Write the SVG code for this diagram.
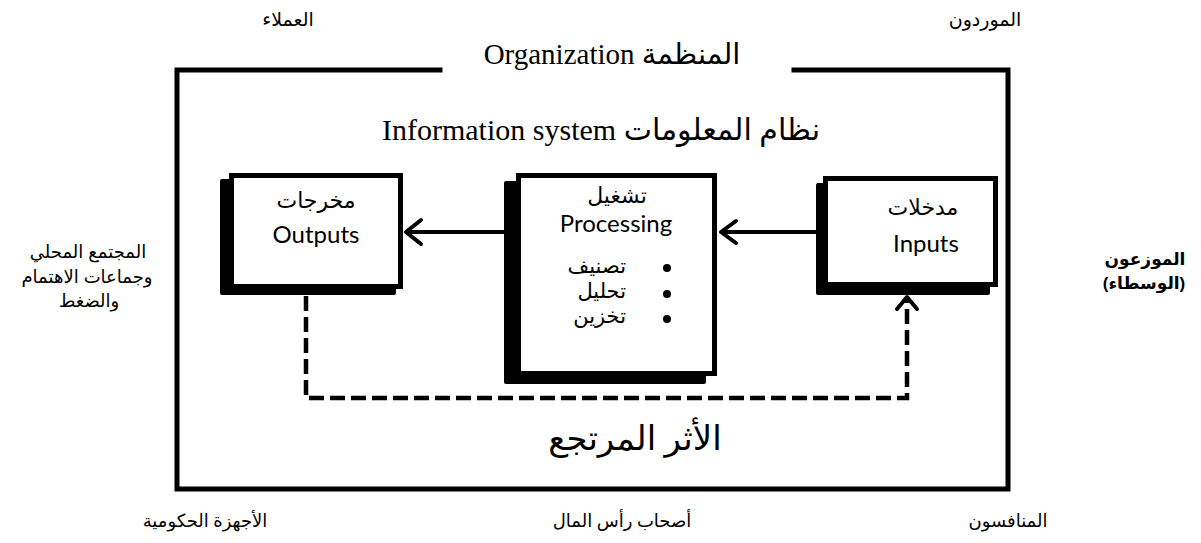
<svg xmlns="http://www.w3.org/2000/svg" width="1201" height="543" viewBox="0 0 1201 543">
  <style>
    .serif { font-family: 'Liberation Serif', 'DejaVu Sans', serif; fill: #000; }
    .sans { font-family: 'Liberation Sans', 'DejaVu Sans', sans-serif; fill: #000; }
    .body { font-family: Lato, 'DejaVu Sans', sans-serif; fill: #000; }
    .frame { fill: none; stroke: #000; stroke-width: 5; stroke-linecap: square; }
    .shadow { fill: #000; }
    .box { fill: #fff; stroke: #000; stroke-width: 5; }
    .line { fill: none; stroke: #000; stroke-width: 4; }
    .dash { fill: none; stroke: #000; stroke-width: 4.5; stroke-dasharray: 15 6; }
    .head { fill: none; stroke: #000; stroke-width: 4; stroke-linecap: round; stroke-linejoin: round; }
  </style>

  <!-- surrounding stakeholders -->
  <g id="stakeholders">
    <text class="serif" x="288" y="26" font-size="19" text-anchor="middle">العملاء</text>
    <text class="serif" x="985" y="26" font-size="19" text-anchor="middle">الموردون</text>
    <text class="sans" x="88" y="258" font-size="18" text-anchor="middle">المجتمع المحلي</text>
    <text class="sans" x="87" y="283" font-size="18" text-anchor="middle">وجماعات الاهتمام</text>
    <text class="sans" x="89" y="307" font-size="18" text-anchor="middle">والضغط</text>
    <text class="sans" x="1145" y="265" font-size="17" font-weight="bold" text-anchor="middle">الموزعون</text>
    <text class="sans" x="1144" y="289" font-size="17" font-weight="bold" text-anchor="middle">(الوسطاء)</text>
    <text class="serif" x="205" y="527" font-size="18" text-anchor="middle">الأجهزة الحكومية</text>
    <text class="serif" x="622" y="527" font-size="18" text-anchor="middle">أصحاب رأس المال</text>
    <text class="serif" x="1008" y="527" font-size="18" text-anchor="middle">المنافسون</text>
  </g>

  <!-- organization boundary -->
  <g id="organization">
    <path class="frame" d="M440,70 H177 V489 H1008 V70 H794"/>
    <text class="serif" x="612" y="64" font-size="29" text-anchor="middle" direction="rtl">المنظمة Organization</text>
    <text class="serif" x="601" y="140" font-size="30" text-anchor="middle" direction="rtl">نظام المعلومات Information system</text>
    <text class="serif" x="635" y="450" font-size="34" text-anchor="middle">الأثر المرتجع</text>
  </g>

  <!-- outputs -->
  <g id="outputs">
    <rect class="shadow" x="220" y="179" width="176" height="116" rx="2"/>
    <rect class="box" x="231.5" y="175.5" width="169" height="111"/>
    <text class="body" x="316" y="208" font-size="22" text-anchor="middle">مخرجات</text>
    <text class="body" x="316" y="243" font-size="24" text-anchor="middle">Outputs</text>
  </g>

  <!-- processing -->
  <g id="processing">
    <rect class="shadow" x="504" y="181" width="202" height="203" rx="2"/>
    <rect class="box" x="518.5" y="175.5" width="196" height="198"/>
    <text class="body" x="617" y="203" font-size="22" text-anchor="middle">تشغيل</text>
    <text class="body" x="616" y="232" font-size="24" text-anchor="middle">Processing</text>
    <circle cx="667" cy="268" r="4"/>
    <circle cx="667" cy="294" r="4"/>
    <circle cx="667" cy="319" r="4"/>
    <text class="body" x="626" y="273" font-size="21" text-anchor="end">تصنيف</text>
    <text class="body" x="626" y="298" font-size="21" text-anchor="end">تحليل</text>
    <text class="body" x="626" y="323" font-size="21" text-anchor="end">تخزين</text>
  </g>

  <!-- inputs -->
  <g id="inputs">
    <rect class="shadow" x="816" y="183" width="174" height="112" rx="2"/>
    <rect class="box" x="825.5" y="178.5" width="170" height="106"/>
    <text class="body" x="923" y="215" font-size="22" text-anchor="middle">مدخلات</text>
    <text class="body" x="926" y="252" font-size="24" text-anchor="middle">Inputs</text>
  </g>

  <!-- flows between the stages -->
  <g id="connectors">
    <line class="line" x1="407" y1="232" x2="516" y2="232"/>
    <polyline class="head" points="421,220 406,232 421,244"/>
    <line class="line" x1="721" y1="232" x2="823" y2="232"/>
    <polyline class="head" points="736,221 721,232 736,243"/>
    <path class="dash" d="M306,296 V398 H907 V300"/>
    <polyline class="head" points="897,309 907,297 917,309"/>
  </g>
</svg>
